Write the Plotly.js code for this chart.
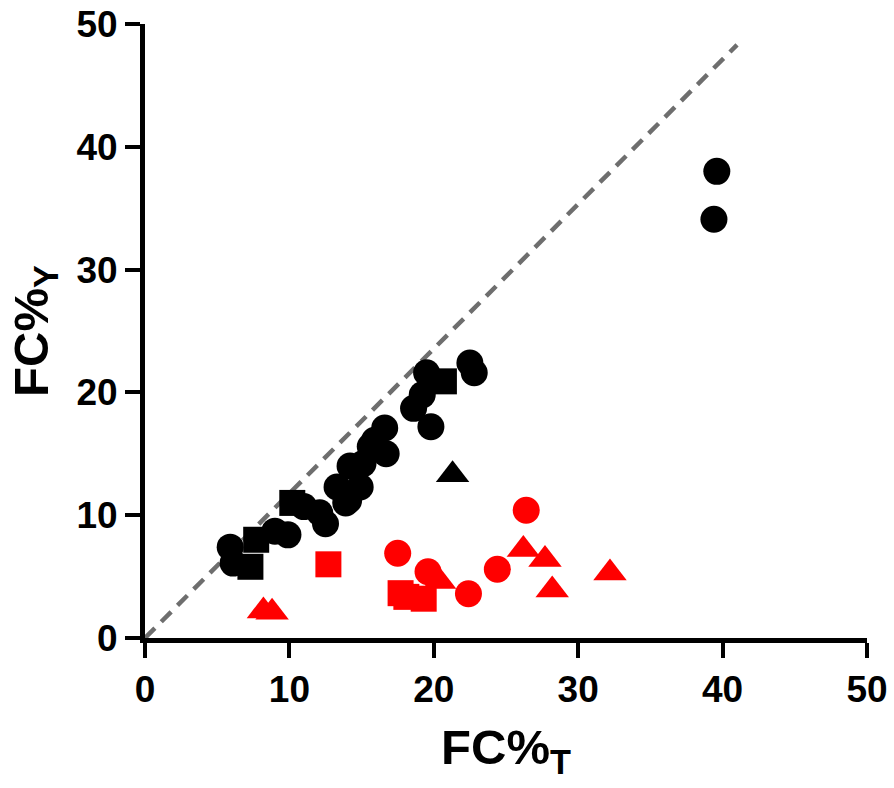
<!DOCTYPE html>
<html>
<head>
<meta charset="utf-8">
<script src="https://cdn.plot.ly/plotly-3.0.1.min.js"></script>
<style>html,body{margin:0;padding:0;background:#fff;}#chart{width:894px;height:788px;}</style>
</head>
<body>
<div id="chart"></div>
<script>
// Black group
var blackCircleX = [5.9, 6.1, 9.0, 9.9, 11.0, 12.1, 12.5, 13.3, 13.9, 14.2, 15.1, 14.9, 14.1, 15.6, 15.9, 16.7, 16.6, 18.6, 19.2, 19.5, 19.8, 22.5, 22.8, 39.6, 39.4];
var blackCircleY = [7.4, 6.1, 8.7, 8.4, 10.7, 10.2, 9.3, 12.3, 11.0, 14.0, 14.2, 12.3, 11.2, 15.6, 16.1, 15.0, 17.1, 18.7, 19.8, 21.6, 17.2, 22.4, 21.6, 38.0, 34.1];
var blackSquareX = [7.3, 7.7, 10.2, 20.7];
var blackSquareY = [5.8, 8.0, 11.0, 20.9];
var blackTriangleX = [21.3];
var blackTriangleY = [13.3];
// Red group
var redCircleX = [17.5, 19.6, 22.4, 24.4, 26.4];
var redCircleY = [6.9, 5.4, 3.6, 5.6, 10.4];
var redSquareX = [12.7, 17.7, 18.1, 19.3];
var redSquareY = [6.0, 3.65, 3.35, 3.2];
var redTriangleX = [8.2, 8.8, 20.4, 26.2, 27.7, 28.2, 32.2];
var redTriangleY = [2.2, 2.1, 4.6, 7.2, 6.4, 3.9, 5.3];
// Reference dashed line
var refLineX = [0, 41];
var refLineY = [0, 48.3];
var tickVals = [0, 10, 20, 30, 40, 50];

function pts(x, y, sym, col, size) {
  return {x: x, y: y, type: 'scatter', mode: 'markers', cliponaxis: false, showlegend: false,
    marker: {symbol: sym, color: col, size: size, line: {width: 0}}};
}
var traces = [
  {x: refLineX, y: refLineY, type: 'scatter', mode: 'lines', showlegend: false,
   line: {color: '#6e6e6e', width: 4.5, dash: '14px,9px'}},
  pts(redTriangleX, redTriangleY, 'triangle-up', '#ff0000', 29),
  pts(redSquareX, redSquareY, 'square', '#ff0000', 26),
  pts(redCircleX, redCircleY, 'circle', '#ff0000', 27),
  pts(blackTriangleX, blackTriangleY, 'triangle-up', '#000000', 29),
  pts(blackSquareX, blackSquareY, 'square', '#000000', 26),
  pts(blackCircleX, blackCircleY, 'circle', '#000000', 27)
];
var axFont = {family: 'Liberation Sans, Arial, sans-serif', size: 37, color: '#000'};
var titleFont = {family: 'Liberation Sans, Arial, sans-serif', size: 49, color: '#000'};
var layout = {
  width: 894, height: 788,
  margin: {l: 145, r: 27, t: 24, b: 150},
  paper_bgcolor: '#fff', plot_bgcolor: '#fff',
  font: {family: 'Liberation Sans, Arial, sans-serif', color: '#000'},
  xaxis: {range: [0, 50], tickvals: tickVals, ticktext: tickVals.map(function(v){return '<b>' + v + '</b>';}),
    showgrid: false, zeroline: false, showline: true, linecolor: '#000', linewidth: 5,
    ticks: 'outside', ticklen: 15, tickwidth: 4, tickcolor: '#000', tickfont: axFont,
    title: {text: '<b>FC%<sub>T</sub></b>', font: titleFont, standoff: 22}},
  yaxis: {range: [0, 50], tickvals: tickVals, ticktext: tickVals.map(function(v){return '<b>' + v + '</b>';}),
    showgrid: false, zeroline: false, showline: true, linecolor: '#000', linewidth: 5,
    ticks: 'outside', ticklen: 15, tickwidth: 4, tickcolor: '#000', tickfont: axFont,
    title: {text: '<b>FC%<sub>Y</sub></b>', font: titleFont, standoff: 14}}
};
Plotly.newPlot('chart', traces, layout, {displayModeBar: false, staticPlot: true});
</script>
</body>
</html>
